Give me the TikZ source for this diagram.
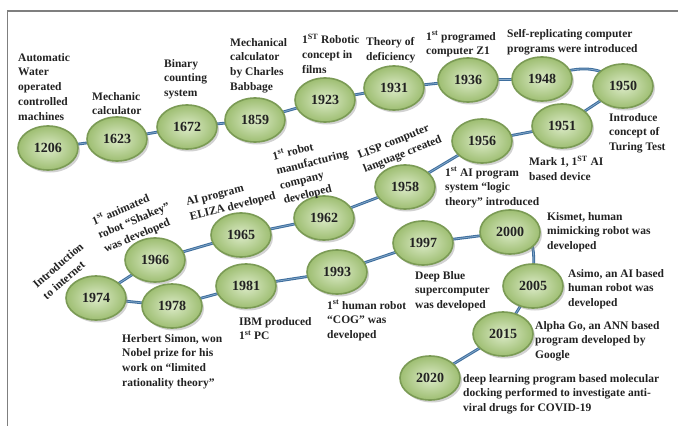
\documentclass[tikz,border=0pt]{standalone}
\usepackage{fontspec}
\setmainfont{Liberation Serif}
\usetikzlibrary{shapes.geometric,shadows,backgrounds}
\definecolor{rim}{HTML}{7B9B55}
\definecolor{gin}{HTML}{DCEBC8}
\definecolor{gout}{HTML}{9EBE72}
\definecolor{linkc}{HTML}{3F6F9E}
\definecolor{linkhi}{HTML}{86AACB}
\definecolor{txt}{HTML}{222222}
\definecolor{frame}{HTML}{7F7F7F}
\newcommand{\sups}[1]{\textsuperscript{#1}}
\begin{document}
\begin{tikzpicture}[x=1pt,y=-1pt,
  yr/.style={ellipse, minimum width=60pt, minimum height=44pt, inner sep=0pt,
    draw=rim, line width=1.6pt, inner color=gin, outer color=gout,
    drop shadow={shadow xshift=2pt,shadow yshift=-2.5pt,opacity=0.35},
    text=txt, font=\fontsize{14}{16}\selectfont\bfseries},
  lbl/.style={align=left, inner sep=0pt, anchor=north west, text=txt,
    font=\fontsize{11.5}{14.8}\selectfont\bfseries},
  rlbl/.style={align=left, inner sep=0pt, anchor=center, text=txt,
    font=\fontsize{11.5}{15}\selectfont\bfseries},
  link/.style={draw=linkc, line width=2.8pt},
  linkin/.style={draw=linkhi, line width=0.7pt}
]
\useasboundingbox (0,0) rectangle (678,426);

% year nodes
\node[yr] (n1206) at (48,148) {1206};
\node[yr] (n1623) at (117,139) {1623};
\node[yr] (n1672) at (187,127) {1672};
\node[yr] (n1859) at (255,120) {1859};
\node[yr] (n1923) at (325,100) {1923};
\node[yr] (n1931) at (394,88) {1931};
\node[yr] (n1936) at (468,80) {1936};
\node[yr] (n1948) at (542,79) {1948};
\node[yr] (n1950) at (623,86) {1950};
\node[yr] (n1951) at (562,126) {1951};
\node[yr] (n1956) at (482,141) {1956};
\node[yr] (n1958) at (405,187) {1958};
\node[yr] (n1962) at (324,218) {1962};
\node[yr] (n1965) at (241,235) {1965};
\node[yr] (n1966) at (155,260) {1966};
\node[yr] (n1974) at (96,298) {1974};
\node[yr] (n1978) at (172,306) {1978};
\node[yr] (n1981) at (246,286) {1981};
\node[yr] (n1993) at (337,272) {1993};
\node[yr] (n1997) at (423,243) {1997};
\node[yr] (n2000) at (510,232) {2000};
\node[yr] (n2005) at (533,286) {2005};
\node[yr] (n2015) at (503,334) {2015};
\node[yr] (n2020) at (430,378) {2020};

% page, frame and timeline connector, all behind the year nodes
\begin{scope}[on background layer]
\fill[white] (0,0) rectangle (678,426);
\draw[frame, line width=1.6pt] (7.5,426) -- (7.5,11) -- (678,11);
\foreach \s in {link,linkin}{
\draw[\s] (n1206.center) -- (n1623.center) -- (n1672.center) -- (n1859.center)
  -- (n1923.center) -- (n1931.center) -- (n1936.center) -- (n1948.center)
  .. controls +(35,-14) and +(-22,-22) .. (n1950.center)
  -- (n1951.center) -- (n1956.center) -- (n1958.center) -- (n1962.center)
  -- (n1965.center) -- (n1966.center) -- (n1974.center) -- (n1978.center)
  -- (n1981.center) -- (n1993.center) -- (n1997.center) -- (n2000.center)
  .. controls +(30,0) and +(0,-30) .. (n2005.center)
  -- (n2015.center) -- (n2020.center);
}
\end{scope}

% event labels
\node[lbl] (t1206) at (18,53) {Automatic\\Water\\operated\\controlled\\machines};
\node[lbl] (t1623) at (92,92) {Mechanic\\calculator};
\node[lbl] (t1672) at (164,59) {Binary\\counting\\system};
\node[lbl] (t1859) at (230,38) {Mechanical\\calculator\\by Charles\\Babbage};
\node[lbl] (t1923) at (302,34) {1\sups{ST} Robotic\\concept in\\films};
\node[lbl] (t1931) at (366,37) {Theory of\\deficiency};
\node[lbl] (t1936) at (426,31) {1\sups{st} programed\\computer Z1};
\node[lbl] (t1948) at (507,29) {Self-replicating computer\\programs were introduced};
\node[lbl] (t1950) at (609,113) {Introduce\\concept of\\Turing Test};
\node[lbl] (t1951) at (529,156) {Mark 1, 1\sups{ST} AI\\based device};
\node[lbl] (t1956) at (445,167) {1\sups{st} AI program\\system “logic\\theory” introduced};
\node[rlbl, rotate=22] (t1958) at (400,148) {LISP computer\\language created};
\node[rlbl, rotate=14] (t1962) at (314,170) {1\sups{st} robot\\manufacturing\\company\\developed};
\node[rlbl, rotate=14] (t1965) at (231,200) {AI program\\ELIZA developed};
\node[rlbl, rotate=23] (t1966) at (134,221) {1\sups{st} animated\\robot “Shakey”\\was developed};
\node[rlbl, rotate=41] (t1974) at (63,271) {Introduction\\to internet};
\node[lbl] (t1978) at (122,334) {Herbert Simon, won\\Nobel prize for his\\work on “limited\\rationality theory”};
\node[lbl] (t1981) at (239,317) {IBM produced\\1\sups{st} PC};
\node[lbl] (t1993) at (327,300) {1\sups{st} human robot\\“COG” was\\developed};
\node[lbl] (t1997) at (415,271) {Deep Blue\\supercomputer\\was developed};
\node[lbl] (t2000) at (547,212) {Kismet, human\\mimicking robot was\\developed};
\node[lbl] (t2005) at (568,269) {Asimo, an AI based\\human robot was\\developed};
\node[lbl] (t2015) at (535,321) {Alpha Go, an ANN based\\program developed by\\Google};
\node[lbl] (t2020) at (463,374) {deep learning program based molecular\\docking performed to investigate anti-\\viral drugs for COVID-19};
\end{tikzpicture}
\end{document}
